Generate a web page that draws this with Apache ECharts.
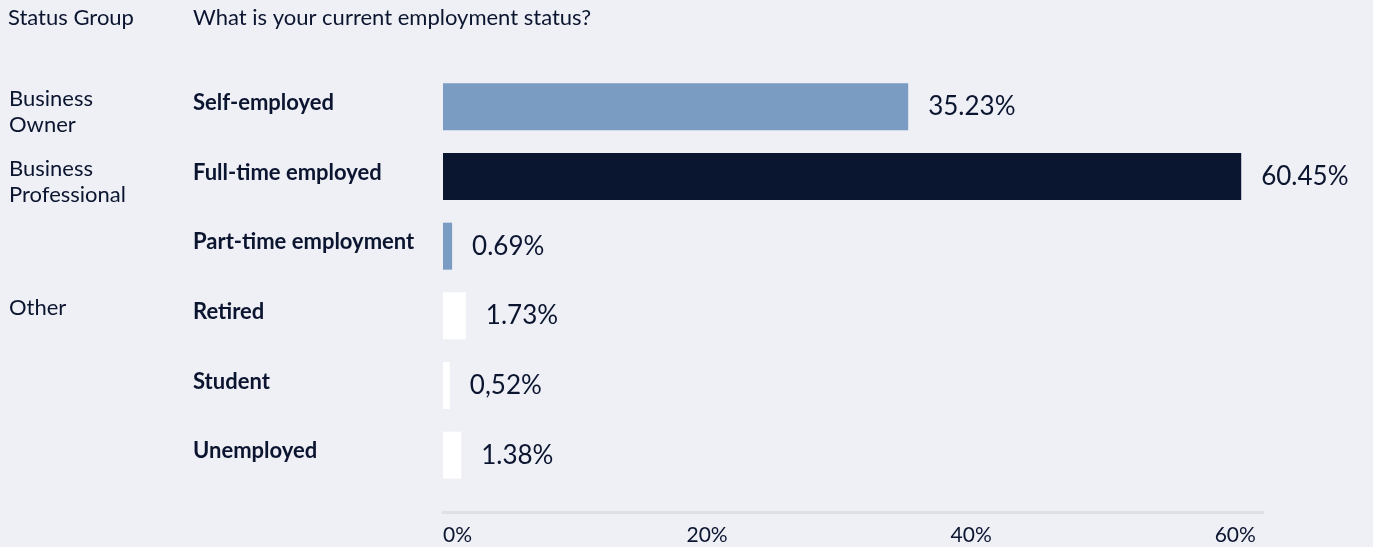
<!DOCTYPE html>
<html>
<head>
<meta charset="utf-8">
<script src="https://cdn.jsdelivr.net/npm/echarts@6/dist/echarts.min.js"></script>
<style>
  html, body { margin: 0; padding: 0; background: #eff0f5; }
  #chart { width: 1373px; height: 547px; }
</style>
</head>
<body>
<div id="chart"></div>
<script>
// Employment status survey results
const categories = ['Self-employed', 'Full-time employed', 'Part-time employment', 'Retired', 'Student', 'Unemployed'];
const groups = ['Business\nOwner', 'Business\nProfessional', '', 'Other', '', ''];
const shares = [35.23, 60.45, 0.69, 1.73, 0.52, 1.38];
const shareLabels = ['35.23%', '60.45%', '0.69%', '1.73%', '0,52%', '1.38%'];
const axisTicks = [0, 20, 40, 60];

const INK = '#0b1530';
const FONT = 'Lato, "Noto Sans", sans-serif';
const barColors = ['#7a9bc2', '#0a1530', '#7a9bc2', '#ffffff', '#ffffff', '#ffffff'];

// Row labels sit a little above the bar centre: a spacer line below (or above)
// the text shifts the visible lines upward within the centred label block.
function rowLabel(text) {
  return '{t|' + text + '}\n{gap| }';
}
function groupLabel(text) {
  if (!text) return '';
  const lines = text.split('\n');
  while (lines.length < 2) lines.push(' ');
  return '{top| }\n' + lines.map(l => '{g|' + l + '}').join('\n');
}

const chart = echarts.init(document.getElementById('chart'), null, { renderer: 'canvas' });

chart.setOption({
  backgroundColor: '#eff0f5',
  animation: false,
  textStyle: { fontFamily: FONT, color: INK },
  title: [
    { text: 'Status Group', left: 3, top: 2, textStyle: { fontFamily: FONT, fontSize: 22, fontWeight: 'normal', color: INK } },
    { text: 'What is your current employment status?', left: 188, top: 2, textStyle: { fontFamily: FONT, fontSize: 22, fontWeight: 'normal', color: INK } }
  ],
  grid: { left: 443, right: 110, top: 72, height: 418, containLabel: false },
  xAxis: {
    type: 'value',
    min: 0,
    max: 62.1,
    interval: 20,
    offset: 22,
    splitLine: { show: false },
    axisTick: { show: false },
    axisLine: { show: true, lineStyle: { color: '#dfe0e6', width: 3 } },
    axisLabel: {
      margin: 13,
      fontFamily: FONT,
      fontSize: 21,
      color: INK,
      alignMinLabel: 'left',
      formatter: v => axisTicks.indexOf(v) >= 0 ? v + '%' : ''
    }
  },
  yAxis: [
    {
      type: 'category',
      data: categories,
      inverse: true,
      axisLine: { show: false },
      axisTick: { show: false },
      axisLabel: {
        align: 'left',
        margin: 250,
        formatter: rowLabel,
        rich: {
          t: { fontFamily: FONT, fontSize: 22, fontWeight: 'bold', color: INK, lineHeight: 26, align: 'left' },
          gap: { fontSize: 6, lineHeight: 8 }
        }
      }
    },
    {
      type: 'category',
      data: groups,
      inverse: true,
      position: 'left',
      axisLine: { show: false },
      axisTick: { show: false },
      axisLabel: {
        align: 'left',
        margin: 434,
        formatter: groupLabel,
        rich: {
          g: { fontFamily: FONT, fontSize: 22, color: INK, lineHeight: 26, align: 'left' },
          top: { fontSize: 8, lineHeight: 10 }
        }
      }
    }
  ],
  series: [{
    type: 'bar',
    yAxisIndex: 0,
    barWidth: 47,
    data: shares.map((v, i) => ({ value: v, itemStyle: { color: barColors[i] } })),
    label: {
      show: true,
      position: 'right',
      distance: 20,
      fontFamily: FONT,
      fontSize: 26,
      color: INK,
      formatter: p => shareLabels[p.dataIndex]
    }
  }]
});
</script>
</body>
</html>
